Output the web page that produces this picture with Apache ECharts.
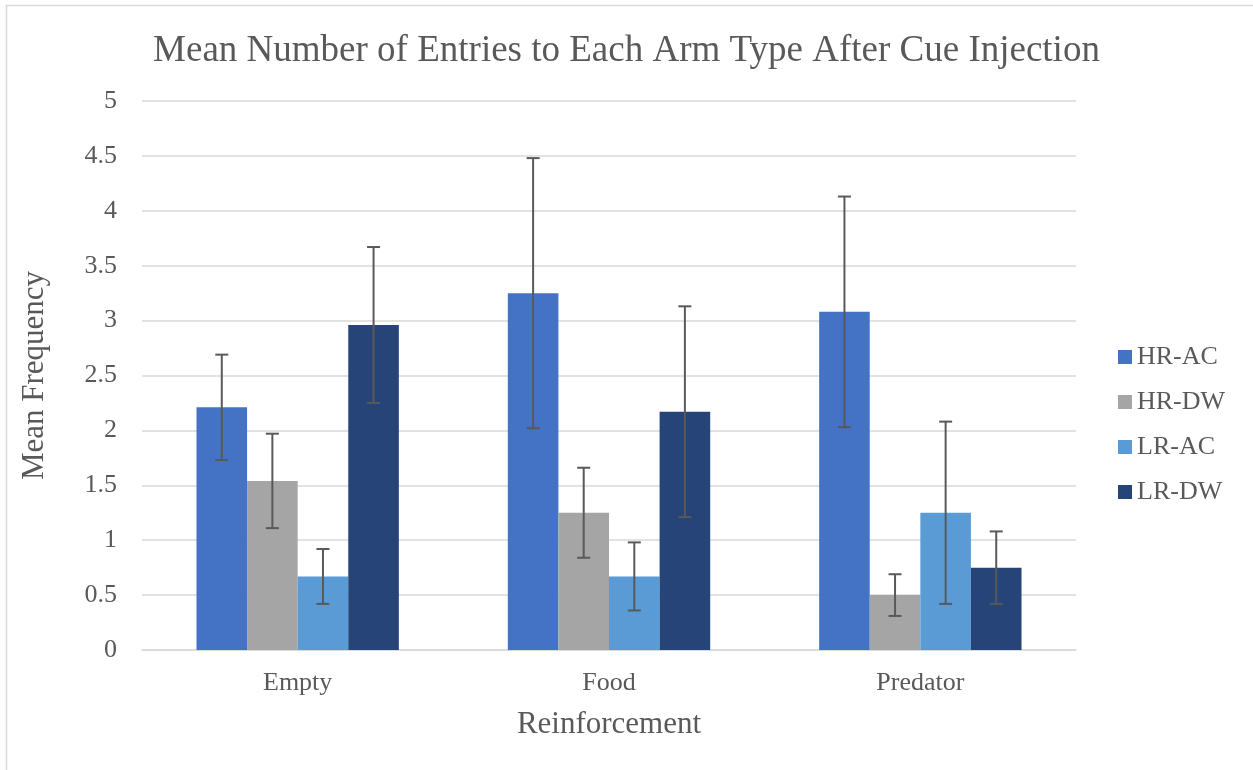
<!DOCTYPE html>
<html>
<head>
<meta charset="utf-8">
<script src="https://cdn.jsdelivr.net/npm/echarts@6/dist/echarts.min.js"></script>
<style>
html,body{margin:0;padding:0;background:#fff;}
#chart{width:1253px;height:770px;}
</style>
</head>
<body>
<div id="chart"></div>
<script>
const categories = ['Empty', 'Food', 'Predator'];
const seriesNames = ['HR-AC', 'HR-DW', 'LR-AC', 'LR-DW'];
const hrAc = [2.21, 3.25, 3.08];
const hrDw = [1.54, 1.25, 0.50];
const lrAc = [0.67, 0.67, 1.25];
const lrDw = [2.96, 2.17, 0.75];
const hrAcErr = [0.48, 1.23, 1.05];
const hrDwErr = [0.43, 0.41, 0.19];
const lrAcErr = [0.25, 0.31, 0.83];
const lrDwErr = [0.71, 0.96, 0.33];
const colors = ['#4472C4', '#A5A5A5', '#5B9BD5', '#264478'];

const values = [hrAc, hrDw, lrAc, lrDw];
const errs = [hrAcErr, hrDwErr, lrAcErr, lrDwErr];
const FONT = '"Liberation Serif", "Times New Roman", serif';
const TXT = '#595959';
const GAP = 0.35;

const errData = [];
values.forEach((vals, s) => {
  vals.forEach((v, c) => {
    errData.push([c, v - errs[s][c], v + errs[s][c], s]);
  });
});

const chart = echarts.init(document.getElementById('chart'));
const series = seriesNames.map((n, i) => ({
  name: n,
  type: 'bar',
  data: values[i],
  barGap: 0,
  barCategoryGap: (GAP * 100) + '%',
  itemStyle: { color: colors[i] },
  z: 2
}));
series.push({
  type: 'custom',
  name: 'err',
  data: errData,
  encode: { x: 0, y: [1, 2] },
  z: 5,
  silent: true,
  renderItem: function (params, api) {
    const cat = api.value(0), lo = api.value(1), hi = api.value(2), s = api.value(3);
    const catW = api.size([1, 0])[0];
    const bw = catW * (1 - GAP) / 4;
    const pLo = api.coord([cat, lo]);
    const pHi = api.coord([cat, hi]);
    const x = pLo[0] + (s - 1.5) * bw;
    const cap = 6.5;
    const st = { stroke: '#595959', lineWidth: 2 };
    return {
      type: 'group',
      children: [
        { type: 'line', shape: { x1: x, y1: pLo[1], x2: x, y2: pHi[1] }, style: st },
        { type: 'line', shape: { x1: x - cap, y1: pHi[1], x2: x + cap, y2: pHi[1] }, style: st },
        { type: 'line', shape: { x1: x - cap, y1: pLo[1], x2: x + cap, y2: pLo[1] }, style: st }
      ]
    };
  }
});

chart.setOption({
  animation: false,
  backgroundColor: '#ffffff',
  textStyle: { fontFamily: FONT },
  title: {
    text: 'Mean Number of Entries to Each Arm Type After Cue Injection',
    left: 'center',
    top: 28,
    textStyle: { fontFamily: FONT, fontSize: 37, fontWeight: 'normal', color: TXT }
  },
  graphic: [{
    type: 'rect',
    shape: { x: 6.5, y: 5.5, width: 1400, height: 900 },
    style: { fill: 'none', stroke: '#d9d9d9', lineWidth: 1.5 },
    silent: true
  }],
  legend: {
    data: seriesNames,
    orient: 'vertical',
    left: 1113,
    top: 339,
    itemWidth: 14,
    itemHeight: 14,
    itemGap: 19,
    icon: 'rect',
    textStyle: { fontFamily: FONT, fontSize: 26, color: TXT, lineHeight: 26 }
  },
  grid: { left: 142, right: 177, top: 101, bottom: 120, containLabel: false },
  xAxis: {
    type: 'category',
    data: categories,
    name: 'Reinforcement',
    nameLocation: 'middle',
    nameGap: 59,
    nameTextStyle: { fontFamily: FONT, fontSize: 31, color: TXT },
    axisLine: { lineStyle: { color: '#d9d9d9', width: 1.5 } },
    axisTick: { show: false },
    axisLabel: { fontFamily: FONT, fontSize: 26, color: TXT, margin: 20 }
  },
  yAxis: {
    type: 'value',
    min: 0,
    max: 5,
    interval: 0.5,
    name: 'Mean Frequency',
    nameLocation: 'middle',
    nameGap: 92,
    nameRotate: 90,
    nameTextStyle: { fontFamily: FONT, fontSize: 31, color: TXT },
    axisLine: { show: false },
    axisTick: { show: false },
    splitLine: { lineStyle: { color: '#d9d9d9', width: 1.5 } },
    axisLabel: { fontFamily: FONT, fontSize: 26, color: TXT, margin: 25 }
  },
  series: series
});
</script>
</body>
</html>
